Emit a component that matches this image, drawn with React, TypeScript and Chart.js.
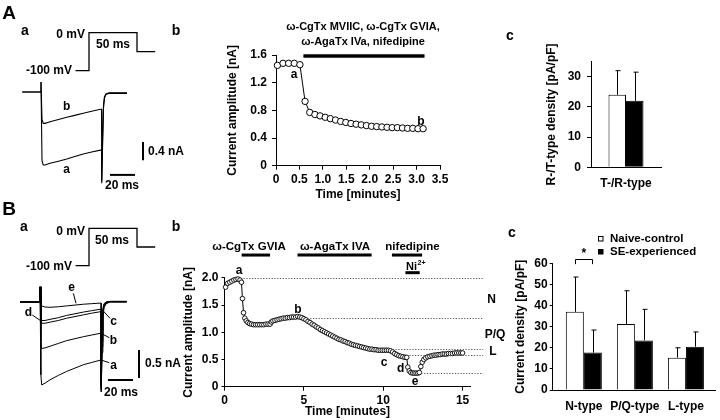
import React, { useEffect, useRef } from 'react';
import { Chart, registerables } from 'chart.js';
Chart.register(...registerables);

const FONT = "'Liberation Sans', Arial, Helvetica, sans-serif";
Chart.defaults.font.family = FONT;
Chart.defaults.font.weight = 'bold' as any;
Chart.defaults.font.size = 12;
Chart.defaults.color = '#000';

// ---------- DATA ----------
// Voltage protocol (ms, mV)
const protoTime = [-14, 0, 0, 50, 50, 69];
const protoVolt = [-100, -100, 0, 0, -50, -50];

// Panel A a: current traces (ms, nA)
const aaTime = [-15, -0.3, 0, 0.8, 1.8, 3.2, 7.2, 14, 20.6, 27, 33.8, 40.5, 47.6, 48.4, 48.6, 49.3, 50, 50.8, 52, 54.5, 68.8];
const aaTraceA = [0, 0, 0.22, -1.5, -1.594, -1.594, -1.557, -1.51, -1.463, -1.41, -1.354, -1.31, -1.27, -1.27, -1.99, -1.1, -0.35, -0.13, -0.05, -0.03, -0.03];
const aaTraceB = [0, 0, 0.22, -0.6, -0.684, -0.684, -0.648, -0.6, -0.553, -0.51, -0.465, -0.42, -0.378, -0.378, -1.95, -1.0, -0.28, -0.1, -0.04, -0.02, -0.02];

// Panel A b: time course
const abTime = [0.03, 0.15, 0.27, 0.39, 0.51, 0.62, 0.72, 0.83, 0.94, 1.05, 1.16, 1.27, 1.38, 1.49, 1.6, 1.71, 1.82, 1.93, 2.04, 2.15, 2.26, 2.37, 2.48, 2.59, 2.7, 2.81, 2.92, 3.03, 3.14];
const abAmp = [1.45, 1.48, 1.48, 1.48, 1.46, 0.93, 0.77, 0.74, 0.72, 0.7, 0.68, 0.66, 0.64, 0.625, 0.61, 0.6, 0.59, 0.58, 0.57, 0.565, 0.56, 0.555, 0.55, 0.55, 0.545, 0.54, 0.54, 0.535, 0.535];
const abDrugSpan = [0.585, 3.17];
const abDrugLevel = 1.585;

// Panel A c
const acCategories = ['T-/R-type'];
const acNaive = [24];
const acNaiveErr = [8];
const acSE = [22];
const acSEErr = [9.5];

// Panel B a: traces (ms, nA)
const baTime = [-16, -0.3, 0, 0.7, 1.3, 4, 8, 14.7, 21.3, 28, 34.7, 41.3, 48, 48.8, 49.0, 49.6, 50.3, 51.2, 53, 56, 69.3];
const baTraceA = [0, 0, 0.27, -1.3, -1.48, -1.45, -1.39, -1.31, -1.24, -1.18, -1.12, -1.08, -1.04, -1.04, -1.6, -0.9, -0.3, -0.1, -0.03, 0, 0];
const baTraceB = [0, 0, 0.27, -0.7, -0.83, -0.82, -0.79, -0.74, -0.69, -0.655, -0.62, -0.59, -0.56, -0.56, -1.55, -0.8, -0.25, -0.08, -0.02, 0, 0];
const baTraceC = [0, 0, 0.27, -0.3, -0.38, -0.38, -0.36, -0.33, -0.29, -0.26, -0.23, -0.2, -0.175, -0.175, -1.5, -0.7, -0.2, -0.06, -0.01, 0.01, 0.01];
const baTraceD = [0, 0, 0.27, -0.25, -0.33, -0.33, -0.31, -0.28, -0.24, -0.21, -0.18, -0.155, -0.13, -0.13, -1.45, -0.6, -0.15, -0.04, 0, 0.01, 0.01];
const baTraceE = [0, 0, 0.27, -0.05, -0.07, -0.09, -0.095, -0.085, -0.07, -0.055, -0.04, -0.03, -0.02, -0.02, -1.4, -0.5, -0.12, -0.03, 0, 0.01, 0.01];

// Panel B b: time course
const bbTime = [
  0.07, 0.2, 0.33, 0.46, 0.59, 0.72, 0.85, 0.98, 1.07, 1.13,
  1.2, 1.28, 1.37, 1.47, 1.58, 1.7, 1.83, 1.96, 2.09, 2.22,
  2.35, 2.48, 2.61, 2.74, 2.87, 2.95, 3.05, 3.18, 3.31, 3.44,
  3.57, 3.7, 3.83, 3.96, 4.09, 4.22, 4.35, 4.48, 4.61, 4.74,
  4.87, 5.0, 5.13, 5.26, 5.39, 5.52, 5.65, 5.78, 5.91, 6.04,
  6.17, 6.3, 6.43, 6.56, 6.69, 6.82, 6.95, 7.08, 7.21, 7.34,
  7.47, 7.6, 7.73, 7.86, 7.99, 8.12, 8.25, 8.38, 8.51, 8.64,
  8.77, 8.9, 9.03, 9.16, 9.29, 9.42, 9.55, 9.68, 9.81, 9.94,
  10.07, 10.2, 10.33, 10.46, 10.59, 10.72, 10.85, 10.98, 11.11, 11.24,
  11.37, 11.48, 11.55, 11.64, 11.74, 11.85, 11.96, 12.07, 12.18, 12.28,
  12.37, 12.46, 12.56, 12.68, 12.81, 12.94, 13.07, 13.2, 13.33, 13.46,
  13.59, 13.72, 13.85, 13.98, 14.11, 14.24, 14.37, 14.5, 14.63, 14.76,
  14.89, 15.0,
];
const bbAmp = [
  1.83, 1.9, 1.92, 1.94, 1.96, 1.97, 1.98, 1.96, 1.92, 1.62,
  1.36, 1.26, 1.21, 1.18, 1.16, 1.15, 1.14, 1.14, 1.14, 1.14,
  1.14, 1.14, 1.15, 1.15, 1.15, 1.19, 1.21, 1.22, 1.23, 1.24,
  1.25, 1.26, 1.26, 1.27, 1.27, 1.28, 1.28, 1.28, 1.29, 1.28,
  1.27, 1.25, 1.23, 1.2, 1.18, 1.15, 1.13, 1.1, 1.08, 1.05,
  1.03, 1.01, 0.99, 0.97, 0.95, 0.93, 0.91, 0.89, 0.87, 0.86,
  0.84, 0.83, 0.81, 0.8, 0.78, 0.77, 0.76, 0.75, 0.74, 0.73,
  0.72, 0.71, 0.7, 0.69, 0.69, 0.68, 0.68, 0.67, 0.67, 0.67,
  0.67, 0.67, 0.67, 0.66, 0.64, 0.61, 0.59, 0.57, 0.56, 0.55,
  0.54, 0.54, 0.36, 0.29, 0.26, 0.25, 0.25, 0.25, 0.25, 0.26,
  0.37, 0.45, 0.5, 0.53, 0.55, 0.56, 0.57, 0.58, 0.58, 0.59,
  0.59, 0.6, 0.6, 0.6, 0.61, 0.61, 0.61, 0.62, 0.62, 0.62,
  0.62, 0.62,
];
const bbDrugNames = ['\u03c9-CgTx GVIA', '\u03c9-AgaTx IVA', 'nifedipine'];
const bbDrugFrom = [1.08, 4.6, 10.55];
const bbDrugTo = [2.87, 9.27, 12.45];
const bbDrugLevel = 2.42;
const bbNiSpan = [11.4, 12.3];
const bbNiLevel = 2.096;
const bbRefLevel = [1.99, 1.27, 0.69, 0.59, 0.26];
const bbRefFrom = [1.2, 5.4, 10.6, 11.3, 12.4];
const bbRefTo = [16.3, 16.3, 16.3, 16.3, 16.3];

// Panel B c
const bcCategories = ['N-type', 'P/Q-type', 'L-type'];
const bcNaive = [37, 31.3, 15.3];
const bcNaiveErr = [16.5, 15.7, 4.7];
const bcSE = [17.7, 23.5, 20.5];
const bcSEErr = [10.7, 14.7, 7];

// ---------- HELPERS ----------
const xy = (xs: number[], ys: number[]) => xs.map((x, i) => ({ x, y: ys[i] }));

type Label = { t: string; x: number; y: number; size?: number; align?: CanvasTextAlign };

function overlay(id: string, labels: Label[], lines: number[][] = [], extra?: (chart: any) => void) {
  return {
    id,
    afterDraw(chart: any) {
      const ctx = chart.ctx;
      ctx.save();
      ctx.strokeStyle = '#000';
      ctx.lineWidth = 1;
      for (const l of lines) {
        ctx.beginPath();
        ctx.moveTo(l[0], l[1]);
        ctx.lineTo(l[2], l[3]);
        ctx.stroke();
      }
      ctx.fillStyle = '#000';
      ctx.textBaseline = 'middle';
      for (const lb of labels) {
        ctx.font = `bold ${lb.size ?? 12}px ${FONT}`;
        ctx.textAlign = lb.align ?? 'center';
        ctx.fillText(lb.t, lb.x, lb.y);
      }
      if (extra) extra(chart);
      ctx.restore();
    },
  };
}

const hidden = (min: number, max: number, axis: 'x' | 'y') => ({ type: 'linear', axis, display: false, min, max });

const baseOptions = {
  responsive: false,
  animation: false,
  events: [],
  plugins: { legend: { display: false }, tooltip: { enabled: false } },
};

const traceDs = (xs: number[], ys: number[], xAxisID = 'x', yAxisID = 'y', w = 1.1) => ({
  data: xy(xs, ys),
  xAxisID,
  yAxisID,
  borderColor: '#000',
  borderWidth: w,
  pointRadius: 0,
  fill: false,
  tension: 0,
  clip: false,
});

const tickGrid = (len: number) => ({ display: true, drawOnChartArea: false, drawTicks: true, tickLength: len, color: '#000', lineWidth: 1 });
const noGrid = { display: false, drawTicks: false, drawOnChartArea: false };
const border = { display: true, color: '#000', width: 1 };
const tickFont = { size: 12, weight: 'bold' };
const decimalTick = (v: any) => (Number(v) === 0 ? '0' : Number(v).toFixed(1));

function errorPlugin(vals: number[][], errs: number[][]) {
  return {
    id: 'errbars',
    afterDatasetsDraw(chart: any) {
      const ctx = chart.ctx;
      const y = chart.scales.y;
      ctx.save();
      ctx.strokeStyle = '#000';
      ctx.lineWidth = 1;
      vals.forEach((arr, di) => {
        const meta = chart.getDatasetMeta(di);
        arr.forEach((v, i) => {
          const bar = meta.data[i];
          const x = Math.round(bar.x) + 0.5;
          const y0 = y.getPixelForValue(v);
          const y1 = y.getPixelForValue(v + errs[di][i]);
          ctx.beginPath();
          ctx.moveTo(x, y0);
          ctx.lineTo(x, y1);
          ctx.moveTo(x - 2, y1);
          ctx.lineTo(x + 3, y1);
          ctx.stroke();
        });
      });
      ctx.restore();
    },
  };
}

// ---------- CONFIGS ----------
const SCALE_MS = 20;

function configAa() {
  const hx = 55.2, hy = -1.81, vx = 81.6, vy = -1.09, vNa = 0.4;
  return {
    type: 'line',
    data: {
      datasets: [
        traceDs(aaTime, aaTraceA),
        traceDs(aaTime, aaTraceB),
        traceDs(protoTime, protoVolt, 'x2', 'y2', 1.3),
        traceDs([hx, hx + SCALE_MS], [hy, hy], 'x', 'y', 2),
        traceDs([vx, vx], [vy, vy - vNa], 'x', 'y', 2),
      ],
    },
    options: {
      ...baseOptions,
      layout: { padding: 0 },
      scales: {
        x: hidden(-32.8, 119.2, 'x'),
        y: hidden(-2.358, 2.009, 'y'),
        x2: hidden(-92.71, 105.21, 'x'),
        y2: hidden(-440.26, 86.05, 'y'),
      },
    },
    plugins: [
      overlay('aaText', [
        { t: 'A', x: 9, y: 14, size: 19 },
        { t: 'a', x: 25, y: 31, size: 14 },
        { t: 'b', x: 176, y: 31, size: 14 },
        { t: '0 mV', x: 85, y: 35, align: 'right' },
        { t: '-100 mV', x: 72, y: 70.5, align: 'right' },
        { t: '50 ms', x: 113, y: 44.5 },
        { t: 'b', x: 66.7, y: 106.7 },
        { t: 'a', x: 66.7, y: 170 },
        { t: '0.4 nA', x: 148, y: 151.5, align: 'left' },
        { t: '20 ms', x: 122, y: 186 },
      ]),
    ],
  };
}

function configAb() {
  return {
    type: 'line',
    data: {
      datasets: [
        {
          data: xy(abTime, abAmp),
          borderColor: '#000',
          borderWidth: 1,
          pointRadius: 3.2,
          pointBackgroundColor: '#fff',
          pointBorderColor: '#000',
          pointBorderWidth: 1,
          tension: 0,
          clip: false,
        },
        traceDs(abDrugSpan, [abDrugLevel, abDrugLevel], 'x', 'y', 3.5),
      ],
    },
    options: {
      ...baseOptions,
      layout: { padding: { left: 30, top: 55, right: 80, bottom: 6 } },
      scales: {
        x: {
          type: 'linear', min: 0, max: 3.5,
          ticks: { stepSize: 0.5, padding: 3, font: tickFont, maxRotation: 0, autoSkip: false },
          grid: tickGrid(4), border,
          title: { display: true, text: 'Time [minutes]', font: tickFont, padding: { top: 0, bottom: 2 } },
          afterFit: (s: any) => { s.height = 38.3; },
        },
        y: {
          type: 'linear', min: 0, max: 1.6,
          ticks: { stepSize: 0.2, padding: 5, font: tickFont, callback: decimalTick },
          grid: tickGrid(4), border,
          title: { display: true, text: 'Current amplitude [nA]', font: tickFont, padding: { top: 5, bottom: 0 } },
          afterFit: (s: any) => { s.width = 56; },
        },
      },
    },
    plugins: [
      overlay('abText', [
        { t: '\u03c9-CgTx MVIIC, \u03c9-CgTx GVIA,', x: 173, y: 27, size: 11 },
        { t: '\u03c9-AgaTx IVa, nifedipine', x: 173, y: 42, size: 11 },
        { t: 'a', x: 104, y: 75 },
        { t: 'b', x: 231, y: 122 },
        { t: 'c', x: 320, y: 36, size: 14 },
      ]),
    ],
  };
}

function configAc() {
  return {
    type: 'bar',
    data: {
      labels: acCategories,
      datasets: [
        { data: acNaive, backgroundColor: '#fff', borderColor: '#000', borderWidth: 1, categoryPercentage: 0.5, barPercentage: 1 },
        { data: acSE, backgroundColor: '#000', borderColor: '#000', borderWidth: 1, categoryPercentage: 0.5, barPercentage: 1 },
      ],
    },
    options: {
      ...baseOptions,
      layout: { padding: { left: 20, top: 61.6, right: 59, bottom: 12.7 } },
      scales: {
        x: {
          ticks: { padding: 9, font: tickFont },
          grid: noGrid, border,
          afterFit: (s: any) => { s.height = 30; },
        },
        y: {
          type: 'linear', min: 0, max: 35,
          ticks: { stepSize: 5, padding: 6, font: tickFont },
          grid: tickGrid(4), border,
          title: { display: true, text: 'R-/T-type density [pA/pF]', font: tickFont, padding: { top: 4.5, bottom: 0 } },
          afterFit: (s: any) => { s.width = 51; },
        },
      },
    },
    plugins: [errorPlugin([acNaive, acSE], [acNaiveErr, acSEErr])],
  };
}

function configBa() {
  const hx = 54.4, hy = -1.393, vx = 79.2, vy = -0.857, vNa = 0.5;
  return {
    type: 'line',
    data: {
      datasets: [
        traceDs(baTime, baTraceA, 'x', 'y', 1),
        traceDs(baTime, baTraceB, 'x', 'y', 1),
        traceDs(baTime, baTraceC, 'x', 'y', 1),
        traceDs(baTime, baTraceD, 'x', 'y', 1),
        traceDs(baTime, baTraceE, 'x', 'y', 1),
        traceDs(protoTime, protoVolt, 'x2', 'y2', 1.3),
        traceDs([hx, hx + SCALE_MS], [hy, hy], 'x', 'y', 2),
        traceDs([vx, vx], [vy, vy - vNa], 'x', 'y', 2),
      ],
    },
    options: {
      ...baseOptions,
      layout: { padding: 0 },
      scales: {
        x: hidden(-32, 120, 'x'),
        y: hidden(-2.107, 1.821, 'y'),
        x2: hidden(-92.71, 105.21, 'x'),
        y2: hidden(-512.57, 75.67, 'y'),
      },
    },
    plugins: [
      overlay(
        'baText',
        [
          { t: 'B', x: 9, y: 10, size: 19 },
          { t: 'a', x: 24, y: 27.5, size: 14 },
          { t: 'b', x: 176, y: 27, size: 14 },
          { t: '0 mV', x: 85, y: 31.7, align: 'right' },
          { t: '-100 mV', x: 72, y: 66.7, align: 'right' },
          { t: '50 ms', x: 112, y: 40.7 },
          { t: 'e', x: 71.7, y: 88 },
          { t: 'd', x: 28.3, y: 113 },
          { t: 'c', x: 113.5, y: 122 },
          { t: 'b', x: 113.5, y: 141 },
          { t: 'a', x: 113.5, y: 166 },
          { t: '0.5 nA', x: 145, y: 164, align: 'left' },
          { t: '20 ms', x: 121, y: 193 },
        ],
        [
          [73.3, 93.3, 76, 103.3],
          [32.3, 115, 40.7, 120.7],
          [101.7, 109.3, 110, 118.3],
          [101, 133.3, 109.3, 137.7],
          [101, 160, 109.3, 162.7],
        ]
      ),
    ],
  };
}

function configBb() {
  const extras = (chart: any) => {
    const { ctx, scales } = chart;
    const x = scales.x, y = scales.y;
    // dotted reference lines
    ctx.save();
    ctx.strokeStyle = '#555';
    ctx.lineWidth = 1;
    ctx.setLineDash([1.2, 1.6]);
    bbRefLevel.forEach((lv, i) => {
      const py = Math.round(y.getPixelForValue(lv)) + 0.5;
      ctx.beginPath();
      ctx.moveTo(x.getPixelForValue(bbRefFrom[i]), py);
      ctx.lineTo(x.getPixelForValue(bbRefTo[i]), py);
      ctx.stroke();
    });
    ctx.restore();
    // drug application bars
    ctx.save();
    ctx.strokeStyle = '#000';
    ctx.lineWidth = 3;
    const dy = y.getPixelForValue(bbDrugLevel);
    bbDrugFrom.forEach((f, i) => {
      ctx.beginPath();
      ctx.moveTo(x.getPixelForValue(f), dy);
      ctx.lineTo(x.getPixelForValue(bbDrugTo[i]), dy);
      ctx.stroke();
    });
    const ny = y.getPixelForValue(bbNiLevel);
    ctx.beginPath();
    ctx.moveTo(x.getPixelForValue(bbNiSpan[0]), ny);
    ctx.lineTo(x.getPixelForValue(bbNiSpan[1]), ny);
    ctx.stroke();
    ctx.restore();
    // drug labels
    ctx.save();
    ctx.fillStyle = '#000';
    ctx.textBaseline = 'middle';
    ctx.textAlign = 'center';
    ctx.font = `bold 11.5px ${FONT}`;
    const labelX = [69, 155, 232.5];
    bbDrugNames.forEach((n, i) => ctx.fillText(n, labelX[i], 47));
    ctx.textAlign = 'left';
    ctx.font = `bold 11px ${FONT}`;
    ctx.fillText('Ni', 226, 66.5);
    const w = ctx.measureText('Ni').width;
    ctx.font = `bold 7px ${FONT}`;
    ctx.fillText('2+', 226 + w + 0.5, 63);
    ctx.restore();
  };
  return {
    type: 'line',
    data: {
      datasets: [
        {
          data: xy(bbTime, bbAmp),
          borderColor: '#000',
          borderWidth: 1,
          pointRadius: 2.3,
          pointBackgroundColor: '#fff',
          pointBorderColor: '#000',
          pointBorderWidth: 0.9,
          tension: 0,
          clip: false,
        },
      ],
    },
    options: {
      ...baseOptions,
      layout: { padding: { left: 0, top: 77.9, right: 49.5, bottom: 0 } },
      scales: {
        x: {
          type: 'linear', min: 0, max: 15.5,
          afterBuildTicks: (s: any) => { s.ticks = [0, 5, 10, 15].map((v) => ({ value: v })); },
          ticks: { padding: 3, font: tickFont, maxRotation: 0, autoSkip: false },
          grid: tickGrid(4), border,
          title: { display: true, text: 'Time [minutes]', font: tickFont, padding: { top: 0, bottom: 1 } },
          afterFit: (s: any) => { s.height = 33.3; },
        },
        y: {
          type: 'linear', min: 0, max: 2.0,
          ticks: { stepSize: 0.5, padding: 3, font: tickFont, callback: decimalTick },
          grid: tickGrid(3), border,
          title: { display: true, text: 'Current amplitude [nA]', font: tickFont, padding: { top: 1.1, bottom: 0 } },
          afterFit: (s: any) => { s.width = 44.5; },
        },
      },
    },
    plugins: [
      overlay(
        'bbText',
        [
          { t: 'a', x: 59, y: 71 },
          { t: 'b', x: 118, y: 110 },
          { t: 'c', x: 204, y: 163 },
          { t: 'd', x: 220.7, y: 169 },
          { t: 'e', x: 235, y: 181.7 },
          { t: 'N', x: 311.7, y: 100 },
          { t: 'P/Q', x: 315, y: 135 },
          { t: 'L', x: 313, y: 151.7 },
          { t: 'c', x: 332, y: 33.3, size: 14 },
        ],
        [],
        extras
      ),
    ],
  };
}

function configBc() {
  const sigFrom = 0.83, sigTo = 1.155, sigTop = 61.9, sigLeg = 59.6, sigStar = 65.5;
  const extras = (chart: any) => {
    const { ctx, scales } = chart;
    const x = scales.x, y = scales.y;
    ctx.save();
    ctx.strokeStyle = '#000';
    ctx.lineWidth = 1;
    const x0 = Math.round(x.getPixelForValue(sigFrom)) + 0.5;
    const x1 = Math.round(x.getPixelForValue(sigTo)) + 0.5;
    const yt = Math.round(y.getPixelForValue(sigTop)) + 0.5;
    const yl = y.getPixelForValue(sigLeg);
    ctx.beginPath();
    ctx.moveTo(x0, yl);
    ctx.lineTo(x0, yt);
    ctx.lineTo(x1, yt);
    ctx.lineTo(x1, yl);
    ctx.stroke();
    ctx.fillStyle = '#000';
    ctx.font = `bold 12px ${FONT}`;
    ctx.textAlign = 'center';
    ctx.textBaseline = 'middle';
    ctx.fillText('*', x.getPixelForValue(1), y.getPixelForValue(sigStar) + 2);
    // legend
    ctx.fillStyle = '#fff';
    ctx.fillRect(93, 36, 5, 5);
    ctx.strokeRect(93.5, 36.5, 4.5, 4.5);
    ctx.fillStyle = '#000';
    ctx.fillRect(93, 49, 5.5, 5.5);
    ctx.font = `bold 11.5px ${FONT}`;
    ctx.textAlign = 'left';
    ctx.fillText('Naive-control', 105, 38.5);
    ctx.fillText('SE-experienced', 105, 52);
    ctx.restore();
  };
  return {
    type: 'bar',
    data: {
      datasets: [
        { data: xy([1, 2, 3], bcNaive), backgroundColor: '#fff', borderColor: '#000', borderWidth: 1, categoryPercentage: 0.706, barPercentage: 1 },
        { data: xy([1, 2, 3], bcSE), backgroundColor: '#000', borderColor: '#000', borderWidth: 1, categoryPercentage: 0.706, barPercentage: 1 },
      ],
    },
    options: {
      ...baseOptions,
      layout: { padding: { left: 5, top: 63.3, right: 5, bottom: 0 } },
      scales: {
        x: {
          type: 'linear', min: 0.39, max: 3.57, offset: false,
          afterBuildTicks: (s: any) => { s.ticks = [1, 2, 3].map((v) => ({ value: v })); },
          ticks: { padding: 9.5, font: tickFont, autoSkip: false, maxRotation: 0, callback: (v: any) => bcCategories[Number(v) - 1] },
          grid: { ...noGrid, offset: false }, border,
          afterFit: (s: any) => { s.height = 30; },
        },
        y: {
          type: 'linear', min: 0, max: 60,
          ticks: { stepSize: 10, padding: 2, font: tickFont },
          grid: tickGrid(3), border,
          title: { display: true, text: 'Current density [pA/pF]', font: tickFont, padding: { top: 3, bottom: 0 } },
          afterFit: (s: any) => { s.width = 42.7; },
        },
      },
    },
    plugins: [errorPlugin([bcNaive, bcSE], [bcNaiveErr, bcSEErr]), overlay('bcText', [], [], extras)],
  };
}

// ---------- COMPONENTS ----------
function Panel({ left, top, width, height, make }: { left: number; top: number; width: number; height: number; make: () => any }) {
  const ref = useRef<HTMLCanvasElement>(null);
  useEffect(() => {
    const chart = new Chart(ref.current as HTMLCanvasElement, make());
    return () => chart.destroy();
  }, []);
  return (
    <div style={{ position: 'absolute', left, top, width, height }}>
      <canvas ref={ref} width={width} height={height} style={{ width, height, display: 'block' }} />
    </div>
  );
}

export default function App() {
  return (
    <div style={{ position: 'absolute', left: 0, top: 0, width: 720, height: 420, background: '#fff', overflow: 'hidden' }}>
      <Panel left={0} top={0} width={190} height={200} make={configAa} />
      <Panel left={190} top={0} width={330} height={210} make={configAb} />
      <Panel left={520} top={0} width={200} height={210} make={configAc} />
      <Panel left={0} top={200} width={190} height={220} make={configBa} />
      <Panel left={180} top={200} width={340} height={220} make={configBb} />
      <Panel left={505} top={200} width={215} height={220} make={configBc} />
    </div>
  );
}
